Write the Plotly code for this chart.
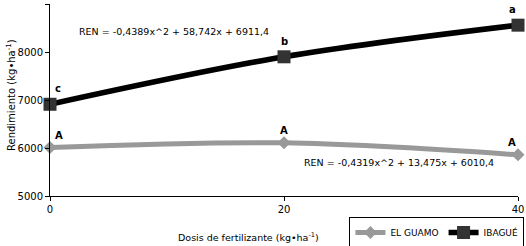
import plotly.graph_objects as go

dosis = [0, 20, 40]
el_guamo = [6010, 6107, 5858]
ibague = [6911, 7900, 8559]
letras_guamo = ["A", "A", "A"]
letras_ibague = ["c", "b", "a"]
eq_ibague = "REN = -0,4389x^2 + 58,742x + 6911,4"
eq_guamo = "REN = -0,4319x^2 + 13,475x + 6010,4"
x_title = "Dosis de fertilizante (kg•ha<sup>-1</sup>)"
y_title = "Rendimiento (kg•ha<sup>-1</sup>)"

FONT = "DejaVu Sans"

fig = go.Figure()
fig.add_trace(go.Scatter(
    x=dosis, y=el_guamo, name="EL GUAMO", mode="lines+markers",
    line=dict(color="#999999", width=5, shape="spline"),
    marker=dict(symbol="diamond", size=10, color="#999999"),
    cliponaxis=False,
))
fig.add_trace(go.Scatter(
    x=dosis, y=ibague, name="IBAGUÉ", mode="lines+markers",
    line=dict(color="#000000", width=5.5, shape="spline"),
    marker=dict(symbol="square", size=13, color="#333333"),
    cliponaxis=False,
))

annotations = []
for series, letters, ys in ((el_guamo, letras_guamo, 5), (ibague, letras_ibague, 8)):
    for xv, yv, t in zip(dosis, series, letters):
        annotations.append(dict(
            x=xv, y=yv, text="<b>" + t + "</b>", showarrow=False,
            xanchor="left" if xv == 0 else ("right" if xv == 40 else "center"),
            yanchor="bottom", xshift=3 if xv == 0 else 0, yshift=ys,
            font=dict(family=FONT, size=10, color="#000")))
annotations.append(dict(x=2.3, y=8420, text=eq_ibague, showarrow=False, xanchor="left",
                        yanchor="middle", font=dict(family=FONT, size=9.5, color="#000")))
annotations.append(dict(x=21.5, y=5700, text=eq_guamo, showarrow=False, xanchor="left",
                        yanchor="middle", font=dict(family=FONT, size=9.5, color="#000")))
# axis titles
annotations.append(dict(xref="paper", yref="paper", x=(248 - 50) / 468, y=(196 - 237) / 192,
                        text=x_title, showarrow=False, xanchor="center", yanchor="middle",
                        font=dict(family=FONT, size=9.5, color="#000")))
annotations.append(dict(xref="paper", yref="paper", x=(11 - 50) / 468, y=(196 - 95) / 192,
                        text=y_title, showarrow=False, textangle=-90,
                        xanchor="center", yanchor="middle",
                        font=dict(family=FONT, size=10, color="#000")))

fig.update_layout(
    width=526, height=246,
    margin=dict(l=50, r=8, t=4, b=50, autoexpand=False),
    paper_bgcolor="white", plot_bgcolor="white",
    font=dict(family=FONT, size=10, color="#000"),
    showlegend=True,
    legend=dict(orientation="h", xref="container", yref="container",
                x=0.997, xanchor="right", y=1 - 217 / 246, yanchor="top",
                bordercolor="#000", borderwidth=1, font=dict(family=FONT, size=9),
                itemwidth=30, tracegroupgap=0, bgcolor="white"),
    annotations=annotations,
    xaxis=dict(range=[0, 40], tickvals=dosis, showgrid=False, zeroline=False,
               showline=True, linecolor="#000", linewidth=1, ticks="outside",
               ticklen=4, tickcolor="#000", automargin=False),
    yaxis=dict(range=[5000, 9000], dtick=1000, showgrid=False, zeroline=False,
               showline=True, linecolor="#000", linewidth=1, ticks="outside",
               ticklen=4, tickcolor="#000", automargin=False),
)

fig.write_html("out.html", config={"displayModeBar": False},
               post_script="document.body.style.margin='0';document.body.style.padding='0';")
